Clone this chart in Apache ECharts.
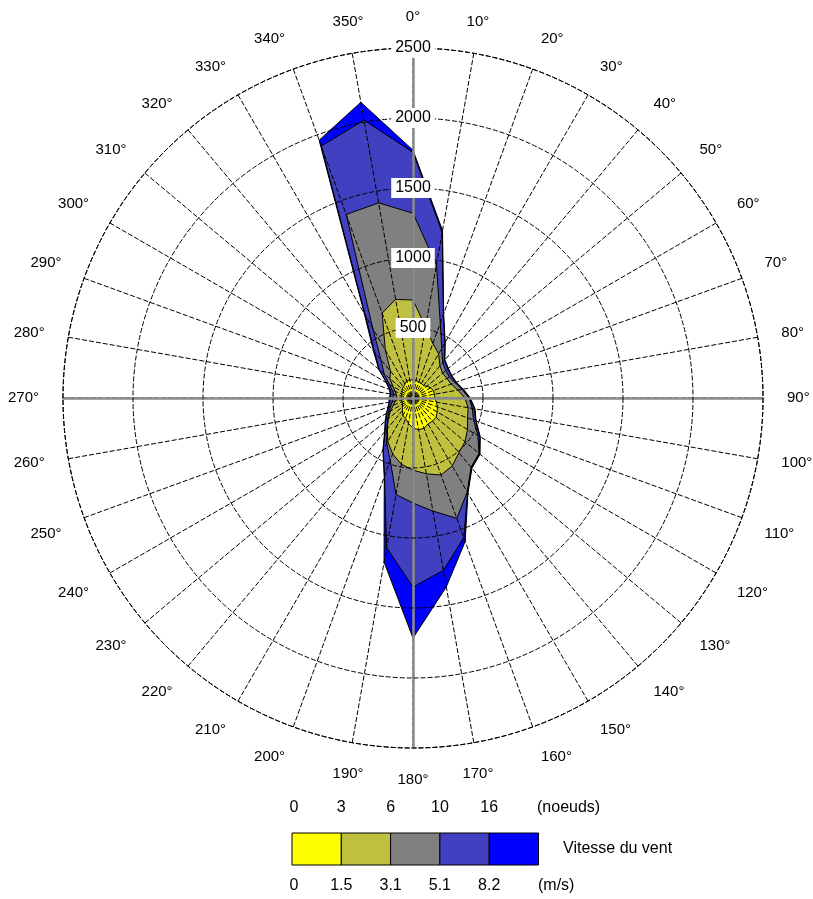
<!DOCTYPE html>
<html><head><meta charset="utf-8">
<script src="https://cdn.jsdelivr.net/npm/echarts@6/dist/echarts.min.js"></script>
<style>html,body{margin:0;padding:0;background:#fff}#c{width:813px;height:899px}</style>
</head><body><div id="c"></div>
<script>
// Wind directions (degrees)
const directions = [0,10,20,30,40,50,60,70,80,90,100,110,120,130,140,150,160,170,180,190,200,210,220,230,240,250,260,270,280,290,300,310,320,330,340,350];
// Counts per speed band (m/s)
const band0to1_5 = [130,130,120,120,115,130,145,155,155,155,170,185,200,215,215,215,230,230,215,185,155,145,115,100,85,85,85,85,85,85,85,100,105,115,130,130];
const band1_5to3_1 = [570,385,295,245,185,145,135,135,170,215,230,230,250,270,295,345,355,320,300,295,270,215,170,130,100,65,45,30,35,50,80,115,145,280,515,585];
const band3_1to5_1 = [620,450,155,45,30,30,20,30,30,30,30,45,85,130,135,215,330,270,235,220,50,15,5,5,15,20,20,30,20,20,30,55,105,180,750,700];
const band5_1to8_2 = [435,235,65,45,20,20,15,5,5,5,15,15,15,5,5,5,145,430,600,385,120,50,20,20,15,15,20,20,20,20,20,45,70,105,520,600];
const band8_2plus = [15,15,5,5,5,5,5,5,5,5,5,5,5,5,5,5,30,120,365,105,5,5,5,5,5,5,5,5,5,5,5,5,15,15,45,130];

const bandNames = ['0-1.5','1.5-3.1','3.1-5.1','5.1-8.2','>8.2'];
const bandColors = ['#ffff00','#c0c040','#808080','#4040c0','#0000ff'];
const knotLabels = ['0','3','6','10','16'];
const msLabels = ['0','1.5','3.1','5.1','8.2'];
const radiusMax = 2500, radiusStep = 500;

const bands = [band0to1_5, band1_5to3_1, band3_1to5_1, band5_1to8_2, band8_2plus];
// cumulative totals
const cumulative = [];
bands.forEach((b, k) => {
  cumulative.push(b.map((v, i) => v + (k > 0 ? cumulative[k-1][i] : 0)));
});

const FONT = '"Liberation Sans", Arial, sans-serif';
const dash = [5, 2];
const center = [413, 398], R = 350;

const series = [];
for (let k = bands.length - 1; k >= 0; k--) {
  const pts = directions.map((d, i) => [cumulative[k][i], d]);
  pts.push([cumulative[k][0], 360]);
  series.push({
    name: bandNames[k], type: 'line', coordinateSystem: 'polar', polarIndex: 0,
    data: pts, symbol: 'none', smooth: false, z: 1,
    lineStyle: {color: '#000', width: 1},
    areaStyle: {color: bandColors[k], opacity: 1},
    animation: false
  });
}

const polars = [], angleAxes = [], radiusAxes = [];
// main polar
polars.push({center: center, radius: R});
angleAxes.push({
  polarIndex: 0, type: 'value', min: 0, max: 360, interval: 10, startAngle: 90, clockwise: true, z: 20,
  axisLine: {show: true, lineStyle: {color: '#000', width: 1, type: dash}},
  axisTick: {show: false},
  axisLabel: {margin: 24, align: 'center', verticalAlign: 'middle', color: '#000', fontSize: 15, fontFamily: FONT,
    formatter: v => v === 360 ? '' : v + '°'},
  splitLine: {show: true, lineStyle: {color: '#000', width: 1, type: dash}}
});
radiusAxes.push({
  polarIndex: 0, type: 'value', min: 0, max: radiusMax, interval: radiusStep, z: 22,
  axisLine: {show: true, lineStyle: {color: '#8c8c8c', width: 2.5}},
  axisTick: {show: false},
  axisLabel: {showMinLabel: false, margin: 0, align: 'center', verticalAlign: 'middle', backgroundColor: '#fff',
    padding: [2, 4], fontSize: 16, color: '#000', fontFamily: FONT, formatter: v => String(v)},
  splitLine: {show: true, lineStyle: {color: '#000', width: 1, type: dash}}
});
// extra cardinal gray lines (90°, 180°, 270°)
[0, -90, 180].forEach((sa, j) => {
  polars.push({center: center, radius: R});
  angleAxes.push({polarIndex: j+1, type: 'value', min: 0, max: 360, startAngle: sa, show: false});
  radiusAxes.push({polarIndex: j+1, type: 'value', min: 0, max: radiusMax, z: 21,
    axisLine: {show: true, lineStyle: {color: '#8c8c8c', width: 2.5}},
    axisTick: {show: false}, axisLabel: {show: false}, splitLine: {show: false}});
});

// legend (graphic)
const graphic = [];
const lx = 292, lw = 49.3, ly = 833, lh = 32;
bandColors.forEach((c, i) => {
  graphic.push({type: 'rect', shape: {x: lx + i*lw, y: ly, width: lw, height: lh},
    style: {fill: c, stroke: '#000', lineWidth: 1}});
});
knotLabels.forEach((t, i) => {
  graphic.push({type: 'text', x: lx + i*lw + (i === 0 ? 2 : 0), y: 808,
    style: {text: t, fill: '#000', font: '16px ' + FONT, align: 'center', verticalAlign: 'middle'}});
});
msLabels.forEach((t, i) => {
  graphic.push({type: 'text', x: lx + i*lw + (i === 0 ? 2 : 0), y: 886,
    style: {text: t, fill: '#000', font: '16px ' + FONT, align: 'center', verticalAlign: 'middle'}});
});
graphic.push({type: 'text', x: 537, y: 808, style: {text: '(noeuds)', fill: '#000', font: '16px ' + FONT, align: 'left', verticalAlign: 'middle'}});
graphic.push({type: 'text', x: 538, y: 886, style: {text: '(m/s)', fill: '#000', font: '16px ' + FONT, align: 'left', verticalAlign: 'middle'}});
graphic.push({type: 'text', x: 563, y: 849, style: {text: 'Vitesse du vent', fill: '#000', font: '16px ' + FONT, align: 'left', verticalAlign: 'middle'}});

const chart = echarts.init(document.getElementById('c'), null, {renderer: 'canvas'});
chart.setOption({
  backgroundColor: '#fff',
  animation: false,
  polar: polars,
  angleAxis: angleAxes,
  radiusAxis: radiusAxes,
  series: series,
  graphic: graphic
});
</script></body></html>
